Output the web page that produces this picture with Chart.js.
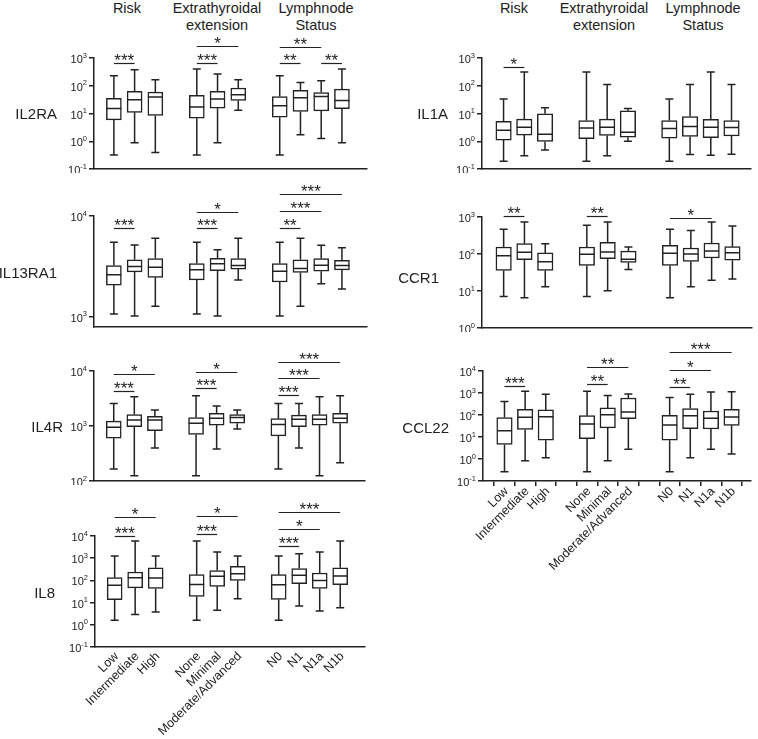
<!DOCTYPE html>
<html>
<head>
<meta charset="utf-8">
<script src="https://cdn.jsdelivr.net/npm/chart.js@4.4.0/dist/chart.umd.min.js"></script>
<style>
  body { margin: 0; background: #fff; width: 758px; height: 739px; position: relative; overflow: hidden;
         font-family: "Liberation Sans", Arial, sans-serif; color: #222; }
  canvas { position: absolute; }
  .hd { position: absolute; top: 0; font-size: 14.5px; line-height: 17px; text-align: center;
        transform: translateX(-50%); white-space: nowrap; }
  .gene { position: absolute; font-size: 15px; line-height: 15px; white-space: nowrap; }
</style>
</head>
<body>
<script>
const categories = ['Low', 'Intermediate', 'High', '', 'None', 'Minimal', 'Moderate/Advanced', '', 'N0', 'N1', 'N1a', 'N1b'];
const slots = [0, 1, 2, 4, 5, 6, 8, 9, 10, 11]; // where the ten groups sit on the x axis
const headers = [['Risk'], ['Extrathyroidal', 'extension'], ['Lymphnode', 'Status']];

// each group: [min, q1, median, q3, max]
const IL2RA = [[0.32, 5.9, 15, 35, 230], [0.89, 11, 31, 63, 380], [0.39, 8.5, 39, 59, 165],
  [0.32, 6.8, 17, 45, 400], [0.88, 15.5, 33, 63, 265], [13, 29.5, 47, 83, 165],
  [0.32, 7.4, 19, 41, 230], [1.7, 11.8, 37, 68, 132], [1.25, 12.5, 41, 57, 150], [0.89, 14.8, 29.5, 76, 400]];
const IL13RA1 = [[1070, 2070, 2620, 3230, 5500], [1020, 2800, 3160, 3680, 5170], [1280, 2470, 3110, 3790, 6020],
  [1070, 2330, 2940, 3380, 5500], [1020, 2870, 3360, 3820, 4620], [2330, 2980, 3240, 3790, 6020],
  [1020, 2220, 2830, 3380, 5500], [1280, 2760, 3020, 3680, 6020], [2130, 2840, 3260, 3790, 5130], [1890, 2930, 3240, 3650, 4860]];
const IL4R = [[165, 600, 950, 1230, 2570], [125, 970, 1280, 1620, 3410], [400, 820, 1280, 1500, 1960],
  [125, 700, 1120, 1420, 3560], [380, 1040, 1380, 1700, 2310], [880, 1120, 1420, 1620, 1960],
  [165, 660, 1070, 1360, 2570], [400, 970, 1320, 1580, 2570], [125, 1040, 1320, 1620, 3410], [215, 1120, 1380, 1700, 3560]];
const IL8 = [[1.6, 13.5, 60, 133, 1260], [2.9, 46, 133, 240, 5900], [3.8, 43, 128, 370, 1260],
  [1.6, 19, 66, 182, 5900], [4.5, 54, 152, 280, 1900], [15, 100, 200, 430, 1260],
  [1.6, 14, 64, 182, 1260], [7, 71, 170, 340, 1580], [4.2, 43, 100, 215, 1900], [5.9, 64, 158, 370, 5900]];
const IL1A = [[0.19, 1.1, 2.5, 5.2, 33], [0.30, 1.67, 3.2, 6.3, 315], [0.48, 0.98, 1.8, 9.7, 16],
  [0.19, 1.23, 3.0, 5.6, 315], [0.30, 1.62, 3.2, 6.3, 110], [1.0, 1.4, 2.1, 12.5, 15],
  [0.19, 1.29, 2.9, 5.6, 33], [0.33, 1.48, 3.4, 7.8, 110], [0.31, 1.35, 3.2, 6.2, 315], [0.34, 1.55, 3.1, 5.6, 110]];
const CCR1 = [[7.1, 36, 90, 155, 465], [6.6, 70, 112, 190, 730], [13, 36, 62, 107, 190],
  [7.1, 49, 98, 155, 595], [10.2, 75, 114, 207, 730], [38, 59, 72, 120, 155],
  [6.6, 49, 104, 171, 465], [13, 63, 100, 145, 435], [19.5, 78, 120, 198, 730], [21, 68, 108, 158, 570]];
const CCL22 = [[0.26, 4.6, 19, 76, 410], [0.83, 22, 78, 183, 1200], [1.15, 7.1, 84, 170, 870],
  [0.26, 8.3, 39, 93, 1200], [0.83, 26, 104, 210, 760], [2.8, 68, 137, 590, 900],
  [0.26, 7.1, 35, 96, 620], [1.15, 24, 93, 195, 870], [2.8, 23, 71, 152, 1110], [1.7, 34, 81, 183, 1150]];

// significance bars: [group from, group to, level, stars]
const IL2RA_sig = [[0, 1, 660, '***'], [3, 4, 660, '***'], [3, 5, 2630, '*'], [6, 7, 660, '**'], [8, 9, 660, '**'], [6, 8, 2570, '**']];
const IL13RA1_sig = [[0, 1, 7550, '***'], [3, 4, 7550, '***'], [3, 5, 11040, '*'], [6, 7, 7550, '**'], [6, 8, 11200, '***'], [6, 9, 16400, '***']];
const IL4R_sig = [[0, 1, 4370, '***'], [0, 2, 8900, '*'], [3, 4, 4840, '***'], [3, 5, 9460, '*'], [6, 7, 3660, '***'], [6, 8, 7360, '***'], [6, 9, 14800, '***']];
const IL8_sig = [[0, 1, 10000, '***'], [0, 2, 72000, '*'], [3, 4, 12000, '***'], [3, 5, 79000, '*'], [6, 7, 3470, '***'], [6, 8, 21500, '*'], [6, 9, 120000, '***']];
const IL1A_sig = [[0, 1, 480, '*']];
const CCR1_sig = [[0, 1, 1090, '**'], [3, 4, 1090, '**'], [6, 8, 960, '*']];
const CCL22_sig = [[0, 1, 2140, '***'], [3, 4, 2450, '**'], [3, 5, 15800, '**'], [6, 7, 1950, '**'], [6, 8, 11200, '*'], [6, 9, 72000, '***']];

const ticks3 = [0.1, 1, 10, 100, 1000];
const ticks4 = [0.1, 1, 10, 100, 1000, 10000];
const ticksHigh = [1000, 10000];
const ticksMid = [100, 1000, 10000];
const ticksCcr = [1, 10, 100, 1000];

const ink = '#222';
const colLeft = [0, 378];
const headerX = [[127, 217, 316], [514, 604, 703]];

const panels = [
  { gene: 'IL2RA', box: IL2RA, sig: IL2RA_sig, ticks: ticks3, ymin: 0.1, ymax: 1000, col: 0, axisX: 94, top: 58, bottom: 169, right: 367, labelY: 113, labelRight: 57 },
  { gene: 'IL13RA1', box: IL13RA1, sig: IL13RA1_sig, ticks: ticksHigh, ymin: 796, ymax: 10000, col: 0, axisX: 94, top: 216, bottom: 327, right: 367, labelY: 272, labelRight: 57 },
  { gene: 'IL4R', box: IL4R, sig: IL4R_sig, ticks: ticksMid, ymin: 100, ymax: 10000, col: 0, axisX: 94, top: 371, bottom: 481, right: 365, labelY: 426, labelRight: 63 },
  { gene: 'IL8', box: IL8, sig: IL8_sig, ticks: ticks4, ymin: 0.1, ymax: 10000, col: 0, axisX: 95, top: 536, bottom: 647, right: 365, labelY: 592, labelRight: 55, xLabels: true },
  { gene: 'IL1A', box: IL1A, sig: IL1A_sig, ticks: ticks3, ymin: 0.1, ymax: 1000, col: 1, axisX: 482, top: 58, bottom: 169, right: 751, labelY: 113, labelRight: 448 },
  { gene: 'CCR1', box: CCR1, sig: CCR1_sig, ticks: ticksCcr, ymin: 1, ymax: 1000, col: 1, axisX: 482, top: 217, bottom: 328, right: 752, labelY: 277, labelRight: 439 },
  { gene: 'CCL22', box: CCL22, sig: CCL22_sig, ticks: ticks4, ymin: 0.1, ymax: 10000, col: 1, axisX: 483, top: 371, bottom: 481, right: 751, labelY: 427, labelRight: 449, xLabels: true, xTicks: true }
];

// column headers
headerX.forEach(xs => {
  xs.forEach((x, i) => {
    const d = document.createElement('div');
    d.className = 'hd';
    d.style.left = x + 'px';
    d.innerHTML = headers[i].join('<br>');
    document.body.appendChild(d);
  });
});

// whiskers, medians, significance bars and 10^n labels
function boxExtras(p) {
  return {
    id: 'boxExtras',
    afterDatasetsDraw(chart) {
      const { ctx, scales: { x, y } } = chart;
      ctx.save();
      ctx.strokeStyle = ink;
      ctx.fillStyle = ink;
      ctx.lineWidth = 1.5;
      p.box.forEach((b, i) => {
        const cx = x.getPixelForValue(slots[i]);
        const [lo, q1, med, q3, hi] = b.map(v => y.getPixelForValue(v));
        ctx.beginPath();
        ctx.moveTo(cx, q3); ctx.lineTo(cx, hi);
        ctx.moveTo(cx - 4, hi); ctx.lineTo(cx + 4, hi);
        ctx.moveTo(cx, q1); ctx.lineTo(cx, lo);
        ctx.moveTo(cx - 4, lo); ctx.lineTo(cx + 4, lo);
        ctx.moveTo(cx - 7.5, med); ctx.lineTo(cx + 7.5, med);
        ctx.stroke();
      });

      ctx.lineWidth = 1.2;
      ctx.textAlign = 'center';
      ctx.textBaseline = 'alphabetic';
      ctx.font = '17px "Liberation Sans", Arial';
      p.sig.forEach(([a, b, lvl, stars]) => {
        const x1 = x.getPixelForValue(slots[a]);
        const x2 = x.getPixelForValue(slots[b]);
        const yy = Math.round(y.getPixelForValue(lvl)) + 0.5;
        ctx.beginPath();
        ctx.moveTo(x1, yy); ctx.lineTo(x2, yy);
        ctx.stroke();
        ctx.fillText(stars, (x1 + x2) / 2, yy + 2);
      });

      // y tick labels as 10 with a raised exponent
      y.ticks.forEach(t => {
        const py = y.getPixelForValue(t.value);
        const e = String(Math.round(Math.log10(t.value)));
        const xr = x.left - 7;
        ctx.textAlign = 'right';
        ctx.font = '7.5px "Liberation Sans", Arial';
        ctx.fillText(e, xr, py - 0.5);
        const ew = ctx.measureText(e).width;
        ctx.font = '11px "Liberation Sans", Arial';
        ctx.fillText('10', xr - ew, py + 5);
      });
      ctx.restore();
    }
  };
}

panels.forEach(p => {
  const left = colLeft[p.col];
  const width = 380;
  const padTop = 50;
  const xh = p.xLabels ? 100 : 4;
  const height = padTop + (p.bottom - p.top) + xh;
  const xMin = p.col === 0 ? -0.41 : -0.5;
  const xMax = p.col === 0 ? 11.66 : 11.4;

  const c = document.createElement('canvas');
  c.width = width;
  c.height = height;
  c.style.left = left + 'px';
  c.style.top = (p.top - padTop) + 'px';
  c.style.width = width + 'px';
  c.style.height = height + 'px';
  document.body.appendChild(c);

  const g = document.createElement('div');
  g.className = 'gene';
  g.textContent = p.gene;
  g.style.right = (758 - p.labelRight) + 'px';
  g.style.top = (p.labelY - 7.3) + 'px';
  document.body.appendChild(g);

  new Chart(c, {
    type: 'bar',
    data: {
      datasets: [{
        data: p.box.map((b, i) => ({ x: slots[i], y: [b[1], b[3]] })),
        backgroundColor: '#fff',
        borderColor: ink,
        borderWidth: 1.5,
        borderSkipped: false,
        barThickness: p.col === 0 ? 15 : 15.5
      }]
    },
    options: {
      responsive: false,
      animation: false,
      devicePixelRatio: 1,
      layout: { padding: { left: p.axisX - left - 45, right: left + width - p.right, top: padTop, bottom: 0 } },
      plugins: { legend: { display: false }, tooltip: { enabled: false } },
      scales: {
        x: {
          type: 'linear',
          min: xMin,
          max: xMax,
          bounds: 'data',
          afterBuildTicks: s => { s.ticks = categories.map((c, i) => ({ value: i })); },
          afterFit: s => { s.height = xh; },
          ticks: {
            display: !!p.xLabels,
            autoSkip: false,
            minRotation: 45,
            maxRotation: 45,
            padding: p.xTicks ? -2 : 2,
            labelOffset: 2,
            color: ink,
            font: { family: '"Liberation Sans", Arial', size: 12.5 },
            callback: v => categories[v]
          },
          grid: { drawOnChartArea: false, drawTicks: !!p.xTicks, tickLength: 5, color: ink, lineWidth: 1.5 },
          border: { display: true, color: ink, width: 1.5 }
        },
        y: {
          type: 'logarithmic',
          min: p.ymin,
          max: p.ymax,
          bounds: 'data',
          afterBuildTicks: s => { s.ticks = p.ticks.map(v => ({ value: v })); },
          afterFit: s => { s.width = 45; },
          ticks: { display: false },
          grid: { drawOnChartArea: false, drawTicks: true, tickLength: 5, color: ink, lineWidth: 1.5 },
          border: { display: true, color: ink, width: 1.5 }
        }
      }
    },
    plugins: [boxExtras(p)]
  });
});
</script>
</body>
</html>
